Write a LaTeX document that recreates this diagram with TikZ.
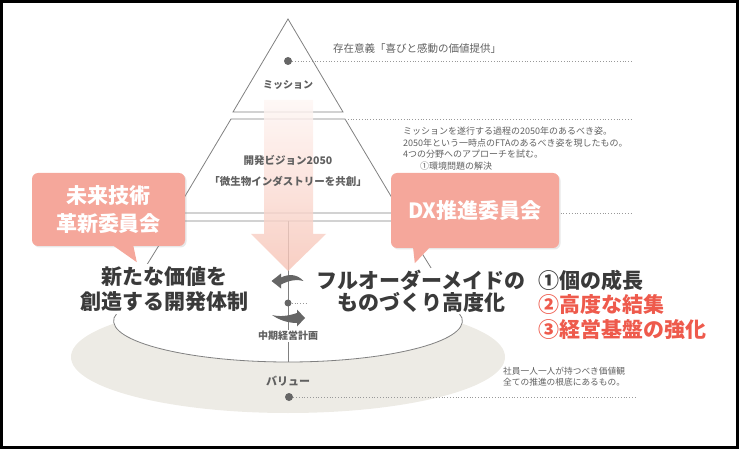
\documentclass[tikz,border=0pt]{standalone}
\usepackage{fontspec}
\setmainfont{Noto Sans CJK JP}
\usetikzlibrary{arrows.meta,positioning,calc,shadows}
\definecolor{CalloutPink}{HTML}{F5A79B}
\definecolor{ArrowPink}{HTML}{F7C3B5}
\definecolor{ValueBeige}{HTML}{EDEBE5}
\definecolor{LineGray}{HTML}{808080}
\definecolor{TextGray}{HTML}{606060}
\definecolor{SwooshGray}{HTML}{666666}
\definecolor{DarkText}{HTML}{3A3A3A}
\definecolor{AccentRed}{HTML}{EE5A4C}

\begin{document}
\begin{tikzpicture}[x=1pt,y=-1pt,>=Latex,
 layer/.style={draw=LineGray,line width=0.8pt},
 guide/.style={draw=LineGray!80,dotted,line width=0.8pt},
 pin/.style={circle,fill=SwooshGray,inner sep=0pt,minimum size=8pt},
 tier/.style={text=TextGray,font=\bfseries\fontsize{10.5}{12}\selectfont,inner sep=0pt},
 note/.style={text=TextGray,font=\fontsize{9}{11.6}\selectfont,align=left,inner sep=0pt},
 callout/.style={fill=CalloutPink,rounded corners=6pt,text=white,align=center,
   font=\bfseries\fontsize{21}{28}\selectfont,
   drop shadow={shadow xshift=1.5pt,shadow yshift=-1.5pt,opacity=0.18}},
 claim/.style={text=DarkText,fill=white,align=center,inner sep=2pt},
 listitem/.style={font=\bfseries\fontsize{21}{24}\selectfont,inner sep=0pt,anchor=west},
 swoosh/.style={fill=SwooshGray}]
\useasboundingbox (0,0) rectangle (739,449);
\fill[ValueBeige] (288,357) ellipse [x radius=217pt,y radius=56pt];
\coordinate (apex) at (288,19);
\coordinate (mL) at (233,112); \coordinate (mR) at (343,112);
\coordinate (vTL) at (231,119); \coordinate (vTR) at (345,119);
\coordinate (vBL) at (175,213); \coordinate (vBR) at (401,213);
\coordinate (pTL) at (174,221); \coordinate (pTR) at (402,221);
\coordinate (pBL) at (114,318); \coordinate (pBR) at (462,318);
\coordinate (pBot) at (288,362);
\fill[white] (pTL) -- (pBL) .. controls (107,342) and (190,362) .. (pBot)
  .. controls (386,362) and (469,342) .. (pBR) -- (pTR) -- cycle;
\draw[layer] (apex) -- (mR) -- (mL) -- cycle;
\draw[layer] (vTL) -- (vTR) -- (vBR) -- (vBL) -- cycle;
\draw[layer] (pTR) -- (pTL) -- (pBL) .. controls (107,342) and (190,362) .. (pBot)
  .. controls (386,362) and (469,342) .. (pBR) -- cycle;
\draw[layer] ($(pTL)!0.5!(pTR)$) -- (pBot);
\shade[top color=ArrowPink!15,bottom color=ArrowPink,opacity=0.8]
  (264,100) -- (313,100) -- (313,234) -- (326,234) -- (288,271) -- (251,234) -- (264,234) -- cycle;

\node[pin] (missiondot) at (288,61) {};
\coordinate (missionend) at (633,61);
\draw[guide] (missiondot) -- (missionend);
\node[note,font=\fontsize{10.5}{12}\selectfont,anchor=west] (missionnote) at (333,49) {存在意義「喜びと感動の価値提供」};
\node[tier,font=\bfseries\fontsize{10}{12}\selectfont] (missionlbl) at (288,85) {ミッション};

\coordinate (visionend) at (633,119);
\draw[guide] (vTR) -- (visionend);
\node[tier] (visionlbl) at (288,160) {開発ビジョン2050};
\node[tier] (visionsub) at (288,181) {「微生物インダストリーを共創」};
\node[note,anchor=north west] (visionnote) at (403,127)
  {ミッションを遂行する過程の2050年のあるべき姿。\\2050年という一時点のFTAのあるべき姿を現したもの。\\4つの分野へのアプローチを試む。\\\hspace*{17pt}①環境問題の解決};

\coordinate (dxend) at (633,213);
\draw[guide] (vBR) -- (dxend);

\node[pin,minimum size=7pt] (plandot) at (288,303) {};
\coordinate (planend) at (307,303);
\draw[guide] (plandot) -- (planend);
\fill[swoosh] (271.5,281) -- (281,273.5) -- (281,277.5) .. controls (290,273) and (298,275) .. (303.5,281)
  .. controls (297,279) and (290,280) .. (281,284.5) -- (281,288.5) -- cycle;
\fill[swoosh] (305,318) -- (297,309.5) -- (297,313) .. controls (288,316) and (280,317) .. (272,315)
  .. controls (279,320) and (288,323) .. (297,323) -- (297,326.5) -- cycle;
\node[tier,fill=white,inner sep=1pt,font=\bfseries\fontsize{10}{12}\selectfont] (planlbl) at (288,336) {中期経営計画};

\node[tier,font=\bfseries\fontsize{11}{12}\selectfont] (valuelbl) at (288,381) {バリュー};
\node[pin] (valuedot) at (289,397) {};
\coordinate (valueend) at (635,397);
\draw[guide] (valuedot) -- (valueend);
\node[note,font=\fontsize{8.7}{11}\selectfont,anchor=north west] (valuenote) at (503,367)
  {社員一人一人が持つべき価値観\\全ての推進の根底にあるもの。};

\node[claim,font=\bfseries\fontsize{21}{25}\selectfont] (devclaim) at (164,289) {新たな価値を\\創造する開発体制};
\node[claim,font=\bfseries\fontsize{21}{22}\selectfont] (mfgclaim) at (421,291) {フルオーダーメイドの\\ものづくり高度化};
\node[listitem,text=DarkText] (growth) at (538,280) {①個の成長};
\node[listitem,text=AccentRed,below=25pt of growth.west,anchor=west] (unite) {②高度な結集};
\node[listitem,text=AccentRed,below=25pt of unite.west,anchor=west] (base) {③経営基盤の強化};

\node[callout,minimum width=153pt,minimum height=73pt] (futcom) at (108.5,209.5) {未来技術\\革新委員会};
\fill[CalloutPink] ($(futcom.south west)+(78,-3)$) -- ($(futcom.south west)+(101,-3)$) -- ($(futcom.south west)+(105,16)$) -- cycle;
\node[callout,minimum width=168pt,minimum height=75pt] (dxcom) at (475,210.5) {DX推進委員会};
\fill[CalloutPink] ($(dxcom.south west)+(22,-3)$) -- ($(dxcom.south west)+(41,-3)$) -- ($(dxcom.south west)+(24,15)$) -- cycle;

\draw[line width=2.5pt] (1.5,1.5) rectangle (737.5,447.5);
\end{tikzpicture}
\end{document}
